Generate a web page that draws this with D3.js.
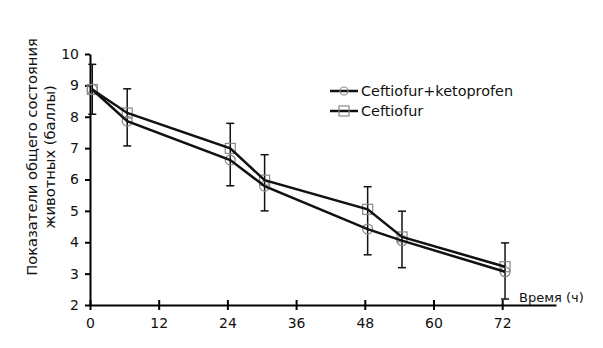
<!DOCTYPE html>
<html><head><meta charset="utf-8">
<script src="https://cdn.jsdelivr.net/npm/d3@7"></script>
<style>body{margin:0;background:#fff}svg{display:block}text{font-family:"DejaVu Sans",Verdana,sans-serif;fill:#111}</style>
</head><body><svg id="c" width="603" height="348"></svg>
<script>
const times = [0.4, 6.5, 24.5, 30.5, 48.5, 54.5, 72.5];
const ketoValues = [8.87, 7.86, 6.62, 5.79, 4.42, 4.05, 3.06];
const ceftValues = [8.87, 8.12, 6.99, 5.98, 5.05, 4.17, 3.22];
const errHigh = [9.67, 8.89, 7.79, 6.79, 5.77, 4.99, 3.98];
const errLow = [8.08, 7.07, 5.80, 5.00, 3.60, 3.19, 2.19];
const xTicks = [0, 12, 24, 36, 48, 60, 72];
const yTicks = [2, 3, 4, 5, 6, 7, 8, 9, 10];
const seriesNames = ["Ceftiofur+ketoprofen", "Ceftiofur"];

const svg = d3.select("#c");
const x = d3.scaleLinear().domain([0, 81.4]).range([90, 556]);
const y = d3.scaleLinear().domain([2, 10]).range([305, 54]);

// axes
const xAxis = svg.append("g").attr("transform", `translate(0,${y(2)})`)
  .call(d3.axisBottom(x).tickValues(xTicks).tickSize(5).tickPadding(8).tickSizeOuter(0));
xAxis.select(".domain").attr("stroke", "#000").attr("stroke-width", 2);
xAxis.selectAll(".tick line").attr("stroke", "#000").attr("stroke-width", 2).attr("y1", -5);
xAxis.selectAll(".tick text").style("font-size", "14px").style("font-family", "DejaVu Sans");

const yAxis = svg.append("g").attr("transform", `translate(${x(0)},0)`)
  .call(d3.axisLeft(y).tickValues(yTicks).tickSize(5).tickPadding(6).tickSizeOuter(0));
yAxis.select(".domain").attr("stroke", "#000").attr("stroke-width", 2);
yAxis.selectAll(".tick line").attr("stroke", "#000").attr("stroke-width", 2);
yAxis.selectAll(".tick text").style("font-size", "14px").style("font-family", "DejaVu Sans");

// error bars
const eg = svg.append("g").attr("stroke", "#111").attr("stroke-width", 1.5);
times.forEach((t, i) => {
  const cx = x(t);
  eg.append("line").attr("x1", cx).attr("x2", cx).attr("y1", y(errHigh[i])).attr("y2", y(errLow[i]));
  eg.append("line").attr("x1", cx - 4).attr("x2", cx + 4).attr("y1", y(errHigh[i])).attr("y2", y(errHigh[i]));
  eg.append("line").attr("x1", cx - 4).attr("x2", cx + 4).attr("y1", y(errLow[i])).attr("y2", y(errLow[i]));
});

// markers
const mg = svg.append("g").attr("fill", "none").attr("stroke", "#888").attr("stroke-width", 1.2);
times.forEach((t, i) => {
  mg.append("circle").attr("cx", x(t)).attr("cy", y(ketoValues[i])).attr("r", 5);
  mg.append("rect").attr("x", x(t) - 5).attr("y", y(ceftValues[i]) - 5).attr("width", 10).attr("height", 10);
});

// lines
const line = d3.line().x((d, i) => x(times[i])).y(d => y(d));
[ketoValues, ceftValues].forEach(v => {
  svg.append("path").attr("d", line(v)).attr("fill", "none").attr("stroke", "#111").attr("stroke-width", 2.5);
});

// legend
const lg = svg.append("g");
[0, 1].forEach(i => {
  const ly = 91 + i * 20;
  lg.append("line").attr("x1", 330).attr("x2", 358).attr("y1", ly).attr("y2", ly).attr("stroke", "#111").attr("stroke-width", 2.5);
  if (i === 0) lg.append("circle").attr("cx", 344).attr("cy", ly).attr("r", 4).attr("fill", "none").attr("stroke", "#888").attr("stroke-width", 1.2);
  else lg.append("rect").attr("x", 339).attr("y", ly - 5).attr("width", 10).attr("height", 10).attr("fill", "none").attr("stroke", "#888").attr("stroke-width", 1.2);
  lg.append("text").attr("x", 361).attr("y", ly + 5).style("font-size", "14.4px").text(seriesNames[i]);
});

// axis titles
svg.append("text").attr("x", 519).attr("y", 302).style("font-size", "13px").text("Время (ч)");
const yl = svg.append("text").attr("transform", "rotate(-90)").attr("text-anchor", "middle").style("font-size", "14.7px");
yl.append("tspan").attr("x", -157).attr("y", 37).text("Показатели общего состояния");
yl.append("tspan").attr("x", -157).attr("y", 55).text("животных (баллы)");
</script></body></html>
